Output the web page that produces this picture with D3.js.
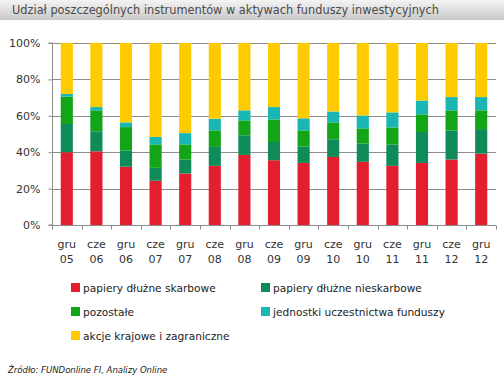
<!DOCTYPE html>
<html>
<head>
<meta charset="utf-8">
<script src="https://cdn.jsdelivr.net/npm/d3@7"></script>
<style>
  body { margin: 0; background: #fff; }
  svg { display: block; font-family: "DejaVu Sans", sans-serif; }
</style>
</head>
<body>
<div id="chart"></div>
<script>
// categories (half-year points)
var months = ["gru", "cze", "gru", "cze", "gru", "cze", "gru", "cze", "gru", "cze", "gru", "cze", "gru", "cze", "gru"];
var years = ["05", "06", "06", "07", "07", "08", "08", "09", "09", "10", "10", "11", "11", "12", "12"];

// shares in %
var skarbowe    = [40.0, 40.5, 32.0, 24.3, 28.3, 32.5, 38.5, 35.6, 34.1, 37.4, 34.7, 32.5, 34.1, 36.0, 39.2];
var nieskarbowe = [15.5, 11.0, 9.0, 7.1, 7.6, 10.4, 10.8, 10.0, 9.1, 9.7, 10.0, 11.8, 17.0, 16.0, 13.5];
var pozostale   = [15.0, 11.5, 12.8, 12.9, 8.4, 9.1, 8.2, 12.4, 8.8, 9.3, 8.4, 9.3, 9.7, 11.0, 10.3];
var jednostki   = [1.5, 1.8, 2.6, 4.1, 6.2, 6.4, 5.5, 6.8, 6.6, 6.0, 7.1, 8.3, 7.6, 7.3, 7.3];
var akcje       = [28.0, 35.2, 43.6, 51.6, 49.5, 41.6, 37.0, 35.2, 41.4, 37.6, 39.8, 38.1, 31.6, 29.7, 29.7];

var seriesNames = ["papiery dłużne skarbowe", "papiery dłużne nieskarbowe", "pozostałe",
                   "jednostki uczestnictwa funduszy", "akcje krajowe i zagraniczne"];
var seriesColors = ["#e31f2f", "#0e8b58", "#13a518", "#19b6b4", "#fecb00"];
var yTicks = [0, 20, 40, 60, 80, 100];

var width = 504, height = 378;
var margin = {left: 52, top: 43, right: 8, bottom: 153};

// build rows for the stack
var keys = ["s0", "s1", "s2", "s3", "s4"];
var allSeries = [skarbowe, nieskarbowe, pozostale, jednostki, akcje];
var rows = [];
for (var i = 0; i < months.length; i++) {
  var r = {cat: i};
  for (var k = 0; k < keys.length; k++) {
    r[keys[k]] = allSeries[k][i];
  }
  rows.push(r);
}
var stacked = d3.stack().keys(keys).offset(d3.stackOffsetExpand)(rows);

var svg = d3.select("#chart").append("svg")
  .attr("width", width)
  .attr("height", height);

// title bar with gradient
var defs = svg.append("defs");
var grad = defs.append("linearGradient")
  .attr("id", "titleGrad")
  .attr("x1", 0).attr("y1", 0).attr("x2", 0).attr("y2", 1);
grad.append("stop").attr("offset", "0%").attr("stop-color", "#f4f4f4");
grad.append("stop").attr("offset", "100%").attr("stop-color", "#c9c9c9");

svg.append("rect")
  .attr("x", 0).attr("y", 0)
  .attr("width", width).attr("height", 20)
  .style("fill", "url(#titleGrad)");

svg.append("text")
  .attr("x", 12)
  .attr("y", 14)
  .attr("textLength", 427)
  .attr("lengthAdjust", "spacingAndGlyphs")
  .style("font-size", "12px")
  .style("fill", "#4a4a4a")
  .text("Udział poszczególnych instrumentów w aktywach funduszy inwestycyjnych");

// scales
var x = d3.scaleBand()
  .domain(d3.range(months.length))
  .range([margin.left, width - margin.right])
  .paddingInner(0.59)
  .paddingOuter(0.295);
var xOuter = d3.scaleBand()
  .domain(d3.range(months.length))
  .range([margin.left, width - margin.right]);
var y = d3.scaleLinear()
  .domain([0, 1])
  .range([height - margin.bottom, margin.top]);

// gridlines
svg.append("g")
  .selectAll("line")
  .data(yTicks.slice(1))
  .enter()
  .append("line")
  .attr("x1", margin.left)
  .attr("x2", width - margin.right)
  .attr("y1", function(d) { return Math.round(y(d / 100)) + 0.5; })
  .attr("y2", function(d) { return Math.round(y(d / 100)) + 0.5; })
  .style("stroke", "#8c8c8c")
  .style("stroke-width", 1);

// bars
svg.append("g")
  .selectAll("g")
  .data(stacked)
  .enter()
  .append("g")
  .style("fill", function(d, i) { return seriesColors[i]; })
  .selectAll("rect")
  .data(function(d) { return d; })
  .enter()
  .append("rect")
  .attr("x", function(d) { return x(d.data.cat); })
  .attr("width", x.bandwidth())
  .attr("y", function(d) { return y(d[1]); })
  .attr("height", function(d) { return y(d[0]) - y(d[1]); });

// y axis
var yAxis = d3.axisLeft(y)
  .tickValues(yTicks.map(function(d) { return d / 100; }))
  .tickFormat(function(d) { return Math.round(d * 100) + "%"; })
  .tickSize(4)
  .tickPadding(8);
var gy = svg.append("g")
  .attr("transform", "translate(" + (margin.left + 0.5) + ",0)")
  .call(yAxis);
gy.select(".domain").attr("stroke", "#8c8c8c").attr("d", "M-4," + y(1) + "H0V" + y(0) + "H-4");
gy.selectAll(".tick line").attr("stroke", "#8c8c8c");
gy.selectAll(".tick text")
  .style("font-size", "11px")
  .style("font-family", "DejaVu Sans, sans-serif")
  .style("fill", "#333");

// x axis: ticks at band boundaries
var xAxisY = Math.round(y(0)) + 0.5;
svg.append("line")
  .attr("x1", margin.left).attr("x2", width - margin.right)
  .attr("y1", xAxisY).attr("y2", xAxisY)
  .style("stroke", "#8c8c8c");
svg.append("g")
  .selectAll("line")
  .data(d3.range(months.length + 1))
  .enter()
  .append("line")
  .attr("x1", function(d) { return Math.round(margin.left + d * xOuter.step()) + 0.5; })
  .attr("x2", function(d) { return Math.round(margin.left + d * xOuter.step()) + 0.5; })
  .attr("y1", xAxisY)
  .attr("y2", xAxisY + 4)
  .style("stroke", "#8c8c8c");

var xLabels = svg.append("g")
  .selectAll("text")
  .data(d3.range(months.length))
  .enter()
  .append("text")
  .attr("text-anchor", "middle")
  .style("font-size", "11px")
  .style("fill", "#333");
xLabels.append("tspan")
  .attr("x", function(d) { return x(d) + x.bandwidth() / 2; })
  .attr("y", 248)
  .text(function(d) { return months[d]; });
xLabels.append("tspan")
  .attr("x", function(d) { return x(d) + x.bandwidth() / 2; })
  .attr("y", 263)
  .text(function(d) { return years[d]; });

// legend
var legendPos = [[71, 287], [261, 287], [71, 311], [261, 311], [71, 335]];
var legend = svg.append("g")
  .selectAll("g")
  .data(seriesNames)
  .enter()
  .append("g")
  .attr("transform", function(d, i) { return "translate(" + legendPos[i][0] + "," + legendPos[i][1] + ")"; });
legend.append("rect")
  .attr("x", 0).attr("y", -4)
  .attr("width", 9).attr("height", 9)
  .style("fill", function(d, i) { return seriesColors[i]; });
legend.append("text")
  .attr("x", 12)
  .attr("y", 4.5)
  .style("font-size", "10.6px")
  .style("fill", "#222")
  .text(function(d) { return d; });

// source note
svg.append("text")
  .attr("x", 8)
  .attr("y", 373)
  .style("font-size", "8.5px")
  .style("font-style", "italic")
  .style("fill", "#222")
  .text("Źródło: FUNDonline FI, Analizy Online");
</script>
</body>
</html>
